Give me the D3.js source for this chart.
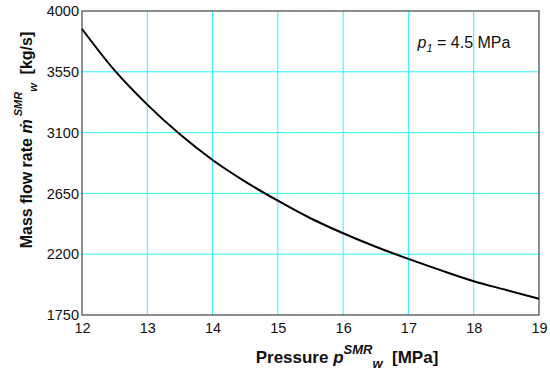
<!DOCTYPE html>
<html>
<head>
<meta charset="utf-8">
<script src="https://cdn.jsdelivr.net/npm/d3@7"></script>
<style>
  body { margin: 0; background: #fff; }
  svg { display: block; font-family: "Liberation Sans", Arial, sans-serif; }
</style>
</head>
<body>
<div id="chart"></div>
<script>
// pressure p_w^SMR [MPa] and mass flow rate [kg/s]
const pressure = [12, 12.5, 13, 13.5, 14, 14.5, 15, 15.5, 16, 16.5, 17, 17.5, 18, 18.5, 19];
const massFlow = [3867, 3560, 3307, 3087, 2897, 2737, 2596, 2466, 2355, 2255, 2165, 2080, 2000, 1935, 1870];
const xTicks = [12, 13, 14, 15, 16, 17, 18, 19];
const yTicks = [1750, 2200, 2650, 3100, 3550, 4000];

const margin = { top: 11, right: 11, bottom: 56, left: 82 };
const width = 550 - margin.left - margin.right;
const height = 371 - margin.top - margin.bottom;

const svg = d3.select("#chart")
    .append("svg")
    .attr("width", 550)
    .attr("height", 371);

const g = svg.append("g")
    .attr("transform", `translate(${margin.left},${margin.top})`);

const x = d3.scaleLinear().domain([12, 19]).range([0, width]);
const y = d3.scaleLinear().domain([1750, 4000]).range([height, 0]);

// grid
g.append("g")
    .selectAll("line")
    .data(xTicks.slice(1, -1))
    .join("line")
    .attr("x1", d => x(d)).attr("x2", d => x(d))
    .attr("y1", 0).attr("y2", height)
    .attr("stroke", "#2ef2ff").attr("stroke-width", 1);

g.append("g")
    .selectAll("line")
    .data(yTicks.slice(1, -1))
    .join("line")
    .attr("x1", 0).attr("x2", width)
    .attr("y1", d => y(d)).attr("y2", d => y(d))
    .attr("stroke", "#2ef2ff").attr("stroke-width", 1);

// axes
const xAxis = g.append("g")
    .attr("transform", `translate(0,${height})`)
    .call(d3.axisBottom(x).tickValues(xTicks).tickFormat(d3.format("d")).tickSize(0).tickPadding(8));

const yAxis = g.append("g")
    .call(d3.axisLeft(y).tickValues(yTicks).tickFormat(d3.format("d")).tickSize(0).tickPadding(3));

[xAxis, yAxis].forEach(a => {
    a.select(".domain").remove();
    a.selectAll("text")
        .attr("font-family", "Liberation Sans, Arial, sans-serif")
        .attr("font-size", 14.5)
        .attr("fill", "#111");
});

// frame
g.append("rect")
    .attr("width", width).attr("height", height)
    .attr("fill", "none")
    .attr("stroke", "#444").attr("stroke-width", 1.2);

// curve
const line = d3.line()
    .x((d, i) => x(pressure[i]))
    .y(d => y(d))
    .curve(d3.curveMonotoneX);

g.append("path")
    .datum(massFlow)
    .attr("d", line)
    .attr("fill", "none")
    .attr("stroke", "#000")
    .attr("stroke-width", 2);

// annotation
const note = g.append("text")
    .attr("x", x(17.14))
    .attr("y", 37)
    .attr("font-size", 16)
    .attr("fill", "#111");
note.append("tspan").attr("font-style", "italic").text("p");
note.append("tspan").attr("font-style", "italic").attr("font-size", 11).attr("dy", 4).text("1");
note.append("tspan").attr("dy", -4).text(" = 4.5 MPa");

// x title
const xt = svg.append("text")
    .attr("x", 347)
    .attr("y", 363)
    .attr("text-anchor", "middle")
    .attr("font-size", 17)
    .attr("font-weight", "bold")
    .attr("fill", "#111");
xt.append("tspan").text("Pressure ");
xt.append("tspan").attr("font-style", "italic").text("p");
xt.append("tspan").attr("font-style", "italic").attr("font-size", 13).attr("dy", -9).text("SMR");
xt.append("tspan").attr("font-style", "italic").attr("font-size", 13).attr("dy", 14).text("w");
xt.append("tspan").attr("dy", -5).text("\u00a0\u00a0[MPa]");

// y title
const yt = svg.append("text")
    .attr("transform", "translate(32,140) rotate(-90)")
    .attr("text-anchor", "middle")
    .attr("font-size", 16)
    .attr("font-weight", "bold")
    .attr("fill", "#111");
yt.append("tspan").text("Mass flow rate ");
yt.append("tspan").attr("font-style", "italic").text("ṁ");
yt.append("tspan").attr("font-style", "italic").attr("font-size", 11).attr("dy", -10).text("\u00a0SMR");
yt.append("tspan").attr("font-style", "italic").attr("font-size", 11).attr("dy", 15).text("w");
yt.append("tspan").attr("dy", -5).text("\u00a0\u00a0[kg/s]");
</script>
</body>
</html>
